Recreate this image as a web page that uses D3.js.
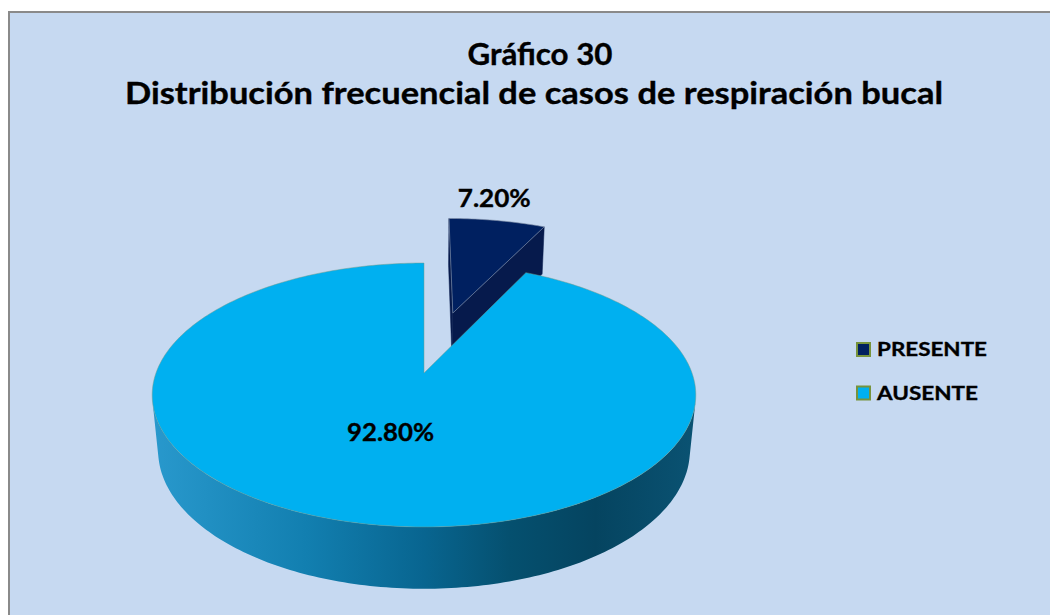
<!DOCTYPE html>
<html>
<head>
<meta charset="utf-8">
<script src="https://cdn.jsdelivr.net/npm/d3@7"></script>
<style>
  body { margin: 0; background: #fff; }
  text { font-family: Lato, "Open Sans", sans-serif; font-weight: bold; fill: #000; stroke: #000; stroke-width: 0.35px; }
</style>
</head>
<body>
<div id="chart"></div>
<script>
// data
const categories = ["PRESENTE", "AUSENTE"];
const values = [7.2, 92.8];
const titleLines = ["Gráfico 30", "Distribución frecuencial de casos de respiración bucal"];

const width = 1050, height = 615;

// 3d pie geometry (world units ~ pixels at the pie centre)
const R = 268, depth = 64, explode = 0.52;
const phi = Math.asin(128.3 / R); // tilt
const D = 1412;                    // camera distance (perspective)
const cx = 424, cy = 373;

const topColors = ["#002060", "#00b0f0"];
const sideColors = ["#061a4c", "#0a6e9c"];

const svg = d3.select("#chart").append("svg")
    .attr("width", width)
    .attr("height", height);

const defs = svg.append("defs");
const grad = defs.append("linearGradient")
    .attr("id", "wallGrad")
    .attr("gradientUnits", "userSpaceOnUse")
    .attr("x1", cx - R).attr("x2", cx + R).attr("y1", 0).attr("y2", 0);
[[0, "#2898cc"], [0.28, "#127fb0"], [0.5, "#086590"], [0.66, "#05506f"],
 [0.82, "#054460"], [1, "#0a5272"]].forEach(s => {
    grad.append("stop").attr("offset", s[0]).attr("stop-color", s[1]);
});

// chart area frame
svg.append("rect")
    .attr("x", 9).attr("y", 12)
    .attr("width", 1100).attr("height", 700)
    .attr("fill", "#c6d9f1")
    .attr("stroke", "#8a8a8a")
    .attr("stroke-width", 2);

function project(X, Y, Z) {
    const up = Y * Math.cos(phi) - Z * Math.sin(phi);
    const d = Y * Math.sin(phi) + Z * Math.cos(phi);
    const s = D / (D - d);
    return [cx + X * s, cy - up * s];
}

// point on rim for angle a (0 = 12 o'clock, clockwise), with offset
function rim(a, Y, off, r) {
    r = r || R;
    return project(off[0] + r * Math.sin(a), Y, off[1] - r * Math.cos(a));
}

function arcPts(a0, a1, Y, off) {
    const n = Math.max(2, Math.ceil(Math.abs(a1 - a0) / (Math.PI / 180)));
    return d3.range(n + 1).map(i => rim(a0 + (a1 - a0) * i / n, Y, off));
}

const line = d3.line().curve(d3.curveLinear);

const arcs = d3.pie().sort(null).value(d => d)(values);

// camera position, for face visibility
const cam = [0, D * Math.sin(phi), D * Math.cos(phi)];

const slices = arcs.map((a, i) => {
    const mid = (a.startAngle + a.endAngle) / 2;
    const e = i === 0 ? explode * R : 0;
    return {
        i: i,
        a0: a.startAngle, a1: a.endAngle, mid: mid,
        off: [e * Math.sin(mid), -e * Math.cos(mid)],
        value: a.data
    };
});

// draw back (exploded) slice first, then main slice
const g = svg.append("g");

[0, 1].forEach(i => {
    const sl = slices[i];
    const off = sl.off;
    const v = project(off[0], 0, off[1]);
    const vb = project(off[0], -depth, off[1]);

    // radial faces
    [[sl.a0, -1], [sl.a1, 1]].forEach(([ang, side]) => {
        const n = [side * Math.cos(ang), side * Math.sin(ang)];
        const vis = n[0] * (cam[0] - off[0]) + n[1] * (cam[2] - off[1]);
        if (vis <= 0.5 || sl.a1 - sl.a0 > Math.PI) return;
        const pts = [v, rim(ang, 0, off), rim(ang, -depth, off), vb];
        g.append("path")
            .attr("d", line(pts) + "Z")
            .attr("fill", sideColors[i])
            .attr("stroke", sideColors[i])
            .attr("stroke-width", 0.5);
    });

    // outer wall, visible part only
    const lim = Math.acos(-R / (D * Math.cos(phi)));
    const w0 = Math.max(sl.a0, lim), w1 = Math.min(sl.a1, 2 * Math.PI - lim);
    if (w1 > w0) {
        const topArc = arcPts(w0, w1, 0, off);
        const botArc = arcPts(w1, w0, -depth, off);
        g.append("path")
            .attr("d", line(topArc.concat(botArc)) + "Z")
            .attr("fill", i === 1 ? "url(#wallGrad)" : sideColors[i]);
    }

    // top face
    const top = [v].concat(arcPts(sl.a0, sl.a1, 0, off));
    g.append("path")
        .attr("d", line(top) + "Z")
        .attr("fill", topColors[i])
        .attr("stroke", i === 0 ? "#7f8fa8" : "#6f9a8a")
        .attr("stroke-width", i === 0 ? 0.8 : 0.6)
        .attr("stroke-opacity", 0.8);
});

// text with fixed size, squeezed to the width of the original font
function addText(parent, x, y, str, size, w, anchor) {
    return parent.append("text")
        .attr("x", x).attr("y", y)
        .attr("text-anchor", anchor || "middle")
        .attr("textLength", w)
        .attr("lengthAdjust", "spacingAndGlyphs")
        .style("font-size", size + "px")
        .text(str);
}

// title
addText(svg, 540, 64.5, titleLines[0], 30, 145);
addText(svg, 534, 103.5, titleLines[1], 30, 818);

// data labels
const fmt = d => d3.format(".2f")(d) + "%";
const lab0 = slices[0];
const p0 = rim(lab0.mid, 0, lab0.off);
addText(svg, p0[0] - 3, p0[1] - 14, fmt(lab0.value), 25, 73);

const lab1 = slices[1];
const p1 = rim(lab1.mid, 0, lab1.off, 0.44 * R);
addText(svg, p1[0] - 5, p1[1] + 9, fmt(lab1.value), 25, 87);

// legend
const legend = svg.append("g").attr("transform", "translate(857,343)");
categories.forEach((c, i) => {
    const row = legend.append("g").attr("transform", "translate(0," + (i * 43.5) + ")");
    row.append("rect")
        .attr("width", 13).attr("height", 13)
        .attr("fill", topColors[i])
        .attr("stroke", "#77933c")
        .attr("stroke-width", 2);
    addText(row, 20, 13, c, 19.5, i === 0 ? 110 : 101, "start");
});
</script>
</body>
</html>
